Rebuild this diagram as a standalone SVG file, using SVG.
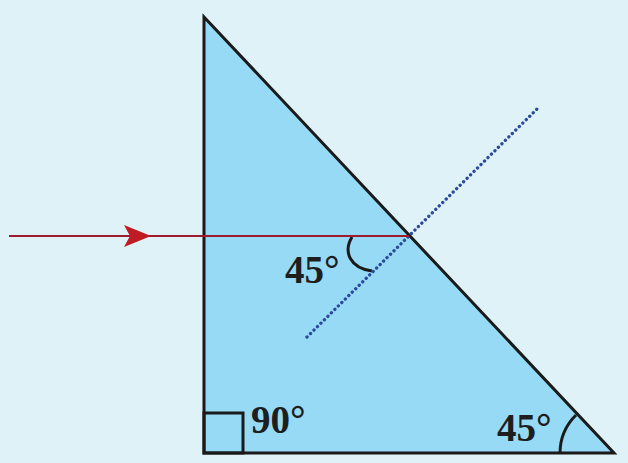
<svg xmlns="http://www.w3.org/2000/svg" width="628" height="463" viewBox="0 0 628 463">
<defs>
<style>
.lbl{font-family:"Liberation Serif","DejaVu Serif",serif;font-weight:bold;font-size:39px;fill:#1e1e1e}
.edge{fill:none;stroke:#1a1a1a;stroke-width:3}
</style>
</defs>
<rect x="0" y="0" width="628" height="463" fill="#dff2f7"/>
<g id="prism">
<polygon points="204,17 204,453 614,453" fill="#96daf6" stroke="#1a1a1a" stroke-width="3" stroke-linejoin="miter"/>
<rect x="204" y="413" width="39" height="40" class="edge" stroke-width="2.5"/>
<path d="M560,453 A54,54 0 0 1 576,415" class="edge" stroke-width="2.5"/>
<path d="M352,237 C343,252 350,268 372,271" class="edge" stroke-width="2.5"/>
</g>
<g id="connectors">
<line x1="307" y1="337" x2="538" y2="108" stroke="#2b4a9c" stroke-width="3.3" stroke-dasharray="0.1 4.8" stroke-linecap="round"/>
<line x1="9" y1="236" x2="409" y2="236" stroke="#9e1b2f" stroke-width="2"/>
<path d="M124,225 L151,236 L124,247 L130,236 Z" fill="#c01a24"/>
</g>
<g id="labels">
<text class="lbl" x="285" y="283">45°</text>
<text class="lbl" x="251" y="433">90°</text>
<text class="lbl" x="497" y="441">45°</text>
</g>
</svg>
